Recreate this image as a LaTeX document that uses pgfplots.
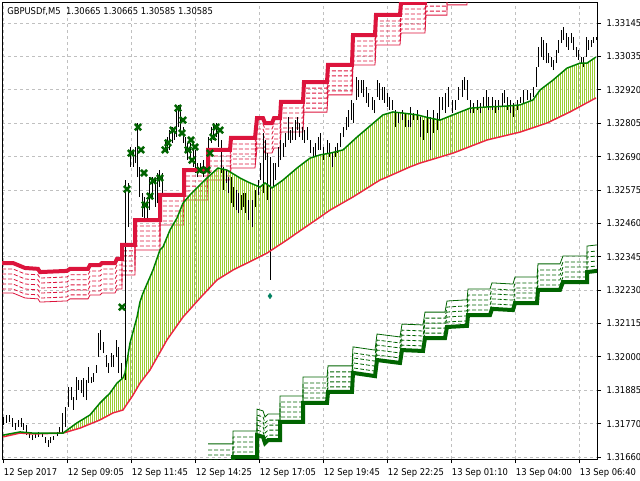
\documentclass[border=0pt]{standalone}
\usepackage{fontspec}
\setmainfont{DejaVu Sans Condensed}
\usepackage{pgfplots}
\pgfplotsset{compat=1.18}
\usepackage{pgfplotstable}
\usetikzlibrary{patterns.meta}
\definecolor{mtred}{RGB}{220,20,60}
\definecolor{mtgreen}{RGB}{0,100,0}
\definecolor{magreen}{RGB}{0,128,0}
\definecolor{mared}{RGB}{235,40,65}
\definecolor{yg}{RGB}{154,205,50}
\definecolor{gridc}{RGB}{192,192,192}

\pgfplotstableread{
i hi lo
0 1.31797 1.31770
1.5 1.31804 1.31777
3 1.31804 1.31780
4.5 1.31794 1.31763
6 1.31777 1.31753
7.5 1.31787 1.31763
9 1.31794 1.31763
10 1.31777 1.31753
11.5 1.31770 1.31735
13 1.31742 1.31725
14.5 1.31735 1.31718
16 1.31742 1.31725
17.5 1.31746 1.31729
19.5 1.31742 1.31729
21 1.31729 1.31708
22.5 1.31718 1.31694
23.5 1.31729 1.31708
25 1.31732 1.31718
27 1.31746 1.31732
28 1.31763 1.31742
29.5 1.31811 1.31742
31 1.31831 1.31763
32.5 1.31900 1.31831
34 1.31900 1.31855
35 1.31865 1.31821
36.5 1.31934 1.31855
37.5 1.31924 1.31889
39 1.31924 1.31879
40 1.31931 1.31865
41.5 1.31924 1.31855
42.5 1.31968 1.31913
44 1.31934 1.31913
45 1.31948 1.31917
46.5 1.31975 1.31948
47.5 1.32084 1.32002
48.5 1.32095 1.32026
50 1.32054 1.32016
51.5 1.32009 1.31968
52.5 1.31982 1.31948
54 1.32016 1.31968
55 1.32009 1.31968
56.5 1.32061 1.32002
57.5 1.32037 1.31948
59 1.31982 1.31924
61 1.32608 1.31924
62.5 1.32598 1.32447
63.5 1.32721 1.32653
65 1.32711 1.32653
66 1.32721 1.32666
67 1.32803 1.32618
68 1.32653 1.32550
69.5 1.32564 1.32481
70.5 1.32550 1.32471
72 1.32540 1.32471
73 1.32618 1.32505
74.5 1.32618 1.32550
76 1.32608 1.32516
77 1.32632 1.32529
78 1.32642 1.32584
79.5 1.32632 1.32564
81 1.32745 1.32711
82 1.32755 1.32700
83 1.32779 1.32711
84.5 1.32789 1.32735
85.5 1.32789 1.32745
86.5 1.32848 1.32755
87.5 1.32865 1.32789
88.5 1.32858 1.32779
90 1.32789 1.32735
91 1.32755 1.32700
92 1.32735 1.32676
93.5 1.32735 1.32687
95 1.32735 1.32653
96 1.32711 1.32632
97 1.32666 1.32618
98.5 1.32666 1.32632
100 1.32676 1.32618
101.5 1.32711 1.32642
102.5 1.32755 1.32700
104 1.32789 1.32735
105 1.32803 1.32745
106.5 1.32803 1.32755
107.5 1.32789 1.32721
109 1.32745 1.32632
110 1.32653 1.32574
111.5 1.32642 1.32598
112.5 1.32618 1.32564
114 1.32618 1.32529
115 1.32584 1.32516
116.5 1.32574 1.32505
117.5 1.32564 1.32495
119 1.32557 1.32505
120 1.32564 1.32516
121 1.32564 1.32495
122.5 1.32540 1.32471
124.5 1.32540 1.32447
126 1.32574 1.32516
127.5 1.32608 1.32557
128.5 1.32666 1.32608
130 1.32769 1.32564
131 1.32745 1.32676
132 1.32700 1.32540
133.5 1.32687 1.32266
135 1.32666 1.32584
136 1.32666 1.32608
137.5 1.32721 1.32653
138.5 1.32745 1.32676
140 1.32735 1.32687
141 1.32769 1.32721
142.5 1.32824 1.32745
143.5 1.32779 1.32735
144.5 1.32789 1.32745
146 1.32813 1.32745
147 1.32824 1.32779
148 1.32803 1.32755
149.5 1.32789 1.32745
150.5 1.32779 1.32735
152 1.32789 1.32745
153.5 1.32745 1.32700
155 1.32721 1.32687
156 1.32735 1.32687
157.5 1.32755 1.32711
158.5 1.32769 1.32711
160 1.32721 1.32676
162 1.32745 1.32700
163 1.32735 1.32687
164.5 1.32700 1.32653
166 1.32721 1.32687
167 1.32735 1.32700
168.5 1.32769 1.32721
170 1.32789 1.32755
171.5 1.32824 1.32779
172.5 1.32848 1.32789
174 1.32882 1.32813
175 1.32872 1.32803
176.5 1.32960 1.32882
177.5 1.32950 1.32892
179 1.32950 1.32906
180 1.32950 1.32892
181.5 1.32926 1.32872
182.5 1.32906 1.32858
184.5 1.32892 1.32848
185.5 1.32882 1.32837
187 1.32950 1.32892
188 1.32940 1.32882
189.5 1.32926 1.32882
190.5 1.32926 1.32872
192 1.32906 1.32858
193 1.32892 1.32848
194.5 1.32882 1.32848
196 1.32848 1.32789
197.5 1.32837 1.32803
199.5 1.32848 1.32813
201 1.32837 1.32789
202.5 1.32813 1.32789
203.5 1.32858 1.32789
205 1.32837 1.32813
207 1.32848 1.32813
208.5 1.32824 1.32755
210 1.32813 1.32745
212 1.32848 1.32769
213.5 1.32824 1.32711
215 1.32848 1.32769
217 1.32837 1.32779
218 1.32892 1.32813
219.5 1.32892 1.32848
221 1.32906 1.32837
222.5 1.32926 1.32858
224.5 1.32882 1.32837
226 1.32882 1.32848
227.5 1.32926 1.32882
229.5 1.32950 1.32892
230.5 1.32960 1.32916
232 1.32950 1.32882
233.5 1.32882 1.32837
235 1.32872 1.32837
237 1.32882 1.32848
238.5 1.32872 1.32837
240 1.32892 1.32858
241.5 1.32916 1.32858
242.5 1.32892 1.32848
244.5 1.32892 1.32848
246 1.32882 1.32837
247.5 1.32882 1.32848
249.5 1.32906 1.32858
250.5 1.32916 1.32872
252 1.32892 1.32848
253.5 1.32882 1.32837
255 1.32872 1.32824
257 1.32882 1.32848
258.5 1.32892 1.32872
260 1.32916 1.32872
262 1.32916 1.32882
263.5 1.32906 1.32882
265 1.32926 1.32892
266.5 1.32995 1.32926
267.5 1.33063 1.32995
269 1.33097 1.33029
270 1.33087 1.33019
271.5 1.33077 1.33008
272.5 1.33043 1.33008
274 1.33029 1.32995
275 1.33019 1.32984
276.5 1.33053 1.33008
277.5 1.33087 1.33043
279 1.33121 1.33077
280 1.33132 1.33087
281.5 1.33111 1.33063
282.5 1.33097 1.33053
284 1.33111 1.33077
285 1.33097 1.33053
286.5 1.33063 1.33029
287.5 1.33053 1.33019
289 1.33029 1.33008
290 1.33029 1.32995
291.5 1.33097 1.33029
292.5 1.33087 1.33053
294 1.33087 1.33063
295 1.33097 1.33077
296.5 1.33097 1.33087
}\tbars

\pgfplotstableread{
i p
0 1.31735
8.5 1.31746
15 1.31742
30 1.31742
37 1.31777
43.5 1.31804
48.5 1.31845
53.5 1.31879
57 1.31913
60 1.31931
61 1.31948
63.5 1.32050
67 1.32139
68.5 1.32191
70 1.32221
73.5 1.32276
75 1.32300
78.5 1.32369
80 1.32379
83.5 1.32437
87 1.32478
90 1.32529
93.5 1.32557
97 1.32581
102 1.32615
107.5 1.32649
112 1.32642
118.5 1.32615
123.5 1.32598
128.5 1.32584
131 1.32598
134.5 1.32581
140 1.32608
147 1.32649
153.5 1.32683
158.5 1.32694
163.5 1.32700
170 1.32711
177 1.32755
183.5 1.32793
190 1.32831
195 1.32841
200 1.32837
207 1.32831
213.5 1.32820
218.5 1.32813
225 1.32831
233.5 1.32854
242 1.32858
252 1.32861
258.5 1.32865
265 1.32882
268.5 1.32916
275 1.32950
282 1.32991
288.5 1.33008
292 1.33008
296.5 1.33029
}\tgma

\pgfplotstableread{
i p
0 1.31729
8.5 1.31742
15 1.31739
30 1.31742
38.5 1.31759
48.5 1.31787
55 1.31811
60 1.31821
65 1.31872
68.5 1.31913
73.5 1.31958
82 1.32061
90 1.32139
98.5 1.32204
107 1.32266
115 1.32300
125 1.32334
132 1.32358
142 1.32403
147 1.32427
158.5 1.32481
163.5 1.32505
175 1.32550
188.5 1.32608
192 1.32618
203.5 1.32653
208.5 1.32666
225 1.32700
242 1.32745
258.5 1.32772
272 1.32803
283.5 1.32841
296.5 1.32889
}\trma

% area between the two moving averages: fast MA forward, slow MA backward
\pgfplotstableread{
i p
0 1.31735
8.5 1.31746
15 1.31742
30 1.31742
37 1.31777
43.5 1.31804
48.5 1.31845
53.5 1.31879
57 1.31913
60 1.31931
61 1.31948
63.5 1.32050
67 1.32139
68.5 1.32191
70 1.32221
73.5 1.32276
75 1.32300
78.5 1.32369
80 1.32379
83.5 1.32437
87 1.32478
90 1.32529
93.5 1.32557
97 1.32581
102 1.32615
107.5 1.32649
112 1.32642
118.5 1.32615
123.5 1.32598
128.5 1.32584
131 1.32598
134.5 1.32581
140 1.32608
147 1.32649
153.5 1.32683
158.5 1.32694
163.5 1.32700
170 1.32711
177 1.32755
183.5 1.32793
190 1.32831
195 1.32841
200 1.32837
207 1.32831
213.5 1.32820
218.5 1.32813
225 1.32831
233.5 1.32854
242 1.32858
252 1.32861
258.5 1.32865
265 1.32882
268.5 1.32916
275 1.32950
282 1.32991
288.5 1.33008
292 1.33008
296.5 1.33029
296.5 1.32889
283.5 1.32841
272 1.32803
258.5 1.32772
242 1.32745
225 1.32700
208.5 1.32666
203.5 1.32653
192 1.32618
188.5 1.32608
175 1.32550
163.5 1.32505
158.5 1.32481
147 1.32427
142 1.32403
132 1.32358
125 1.32334
115 1.32300
107 1.32266
98.5 1.32204
90 1.32139
82 1.32061
73.5 1.31958
68.5 1.31913
65 1.31872
60 1.31821
55 1.31811
48.5 1.31787
38.5 1.31759
30 1.31742
15 1.31739
8.5 1.31742
0 1.31729
}\tfill

\pgfplotstableread{
i p
-0.5 1.32324
5 1.32324
11 1.32307
17.5 1.32304
18.5 1.32293
32 1.32297
33.5 1.32304
42.5 1.32304
43.5 1.32317
48.5 1.32317
49.5 1.32324
56 1.32324
57 1.32338
59.5 1.32338
59.5 1.32386
66 1.32386
66 1.32471
78.5 1.32471
78.5 1.32557
90.5 1.32557
90.5 1.32642
102.5 1.32642
102.5 1.32711
113.5 1.32711
114 1.32752
126 1.32752
127 1.32820
130 1.32820
131 1.32803
134.5 1.32803
135.5 1.32820
138.5 1.32820
139 1.32875
150 1.32875
150.5 1.32943
162 1.32943
162.5 1.33002
174.5 1.33002
175 1.33104
186 1.33104
186.5 1.33173
198.5 1.33173
199 1.33214
211 1.33214
211.5 1.33275
222 1.33275
222 1.33310
232 1.33310
232 1.33360
297 1.33360
}\tupper

\pgfplotstableread{
i p
102.5 1.31616
115 1.31616
115 1.31660
127 1.31660
127 1.31735
130 1.31729
131 1.31708
132.5 1.31718
138.5 1.31718
138.5 1.31780
150 1.31780
150 1.31845
162 1.31845
162.5 1.31883
174.5 1.31883
175 1.31948
186 1.31937
187 1.31992
198.5 1.31982
199.5 1.32026
210 1.32023
211 1.32067
221 1.32067
222 1.32105
232 1.32109
232.5 1.32146
243.5 1.32146
244.5 1.32167
255 1.32163
256 1.32187
267 1.32187
267.5 1.32232
278.5 1.32232
280 1.32259
292 1.32259
292 1.32293
297 1.32297
}\tlower

\pgfplotstableread{
i p
59.5 1.32173
62 1.32577
64 1.32700
67.5 1.32789
69 1.32711
70.5 1.32632
71 1.32523
73.5 1.32553
75 1.32605
78.5 1.32615
81 1.32711
82.5 1.32735
85 1.32779
87.5 1.32854
90 1.32813
89.5 1.32769
92.5 1.32711
94 1.32745
96 1.32721
94.5 1.32676
98.5 1.32642
102 1.32642
103.5 1.32700
105 1.32755
106.5 1.32789
108.5 1.32779
}\tmarks

\begin{document}
\begin{tikzpicture}
\path[use as bounding box] (0,0) rectangle (480pt,360pt);
\begin{axis}[
  at={(1.5pt,15.75pt)}, anchor=south west,
  scale only axis, width=446.25pt, height=342.75pt,
  xmin=-0.5, xmax=297, ymin=1.316533, ymax=1.332172,
  axis line style={black, line width=0.75pt},
  font=\fontsize{7}{8.4}\selectfont,
  /pgf/number format/assume math mode=true,
  xtick={0,32,64,96,128,160,192,224,256,288},
  xticklabels={12 Sep 2017,12 Sep 09:05,12 Sep 11:45,12 Sep 14:25,12 Sep 17:05,12 Sep 19:45,12 Sep 22:25,13 Sep 01:10,13 Sep 04:00,13 Sep 06:40},
  ytick={1.33145,1.3303075,1.329165,1.3280225,1.32688,1.3257375,1.324595,1.3234525,1.32231,1.3211675,1.320025,1.3188825,1.31774,1.3165975},
  yticklabels={1.33145,1.33035,1.32920,1.32805,1.32690,1.32575,1.32460,1.32345,1.32230,1.32115,1.32000,1.31885,1.31770,1.31660},
  xtick pos=left, ytick pos=right, yticklabel pos=right,
  tick align=outside, major tick length=3pt,
  every tick/.style={black, line width=0.75pt},
  xticklabel style={anchor=north west, inner sep=0pt, xshift=0.5pt, yshift=-4pt},
  yticklabel style={anchor=west, inner sep=0pt, xshift=4pt},
  grid=major,
  major grid style={gridc, line width=0.75pt, dash pattern=on 2.25pt off 2.25pt},
]
% upper red band
\addplot[mtred, line width=0.6pt] table[x=i, y expr=\thisrow{p}-0.001027] {\tupper};
\pgfplotsinvokeforeach{0.000205,0.000376,0.000548,0.000719,0.000890}{
  \addplot[mtred, line width=0.6pt, dash pattern=on 3pt off 1.5pt] table[x=i, y expr=\thisrow{p}-#1] {\tupper};
}
% lower green band
\addplot[mtgreen, line width=0.6pt] table[x=i, y expr=\thisrow{p}+0.000890] {\tlower};
\pgfplotsinvokeforeach{0.000171,0.000342,0.000513,0.000684}{
  \addplot[mtgreen, line width=0.6pt, dash pattern=on 3pt off 1.5pt] table[x=i, y expr=\thisrow{p}+#1] {\tlower};
}
% MA area
\addplot[draw=none, pattern={Lines[angle=90,distance=1.5pt,line width=0.45pt]}, pattern color=yg] table[x=i,y=p] {\tfill} -- cycle;
% price bars
\addplot[draw=none, mark=none,
  error bars/.cd, y dir=plus, y explicit, error mark=none,
  error bar style={draw=black, line width=0.75pt, solid}]
  table[x=i, y=lo, y error expr=\thisrow{hi}-\thisrow{lo}] {\tbars};
% MAs
\addplot[mared, line width=1.1pt] table[x=i,y=p] {\trma};
\addplot[magreen, line width=1.1pt] table[x=i,y=p] {\tgma};
% thick envelope lines
\addplot[mtred, line width=3pt] table[x=i,y=p] {\tupper};
\addplot[mtgreen, line width=3pt] table[x=i,y=p] {\tlower};
% markers
\addplot[only marks, mark=x, mark size=3.3pt, mtgreen, mark options={line width=1.9pt}] table[x=i,y=p] {\tmarks};
\addplot[only marks, mark=diamond*, mark size=2pt, color={rgb,255:red,0;green,128;blue,96}] coordinates {(133.5,1.32211)};
\node[anchor=north west, inner sep=0pt, xshift=3.75pt, yshift=-3.5pt] at (rel axis cs:0,1) {GBPUSDf,M5\ \ 1.30665 1.30665 1.30585 1.30585};
\end{axis}
\end{tikzpicture}
\end{document}
